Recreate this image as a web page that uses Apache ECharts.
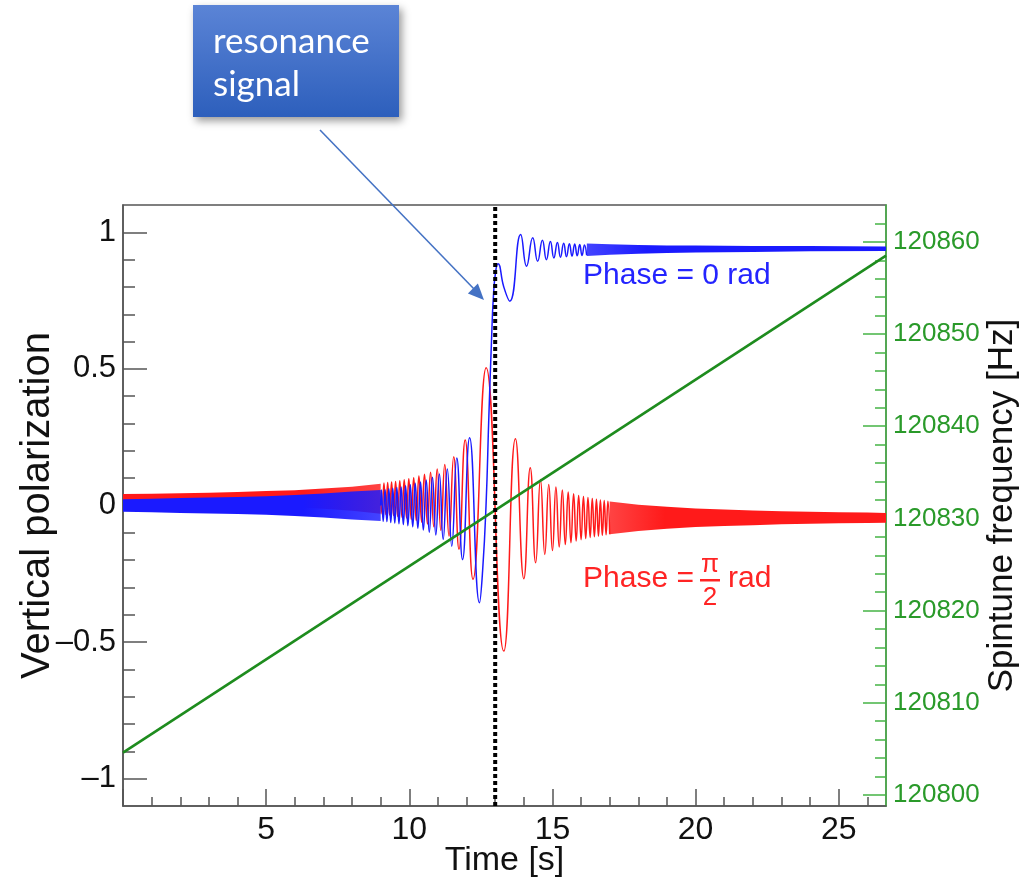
<!DOCTYPE html>
<html><head><meta charset="utf-8">
<script src="https://cdn.jsdelivr.net/npm/echarts@6/dist/echarts.min.js"></script>
<style>html,body{margin:0;padding:0;background:#fff}#c{width:1035px;height:883px}</style>
</head><body><div id="c"></div>
<script>
// ---- tick values / labels ----
const xMajorTicks = [0, 5, 10, 15, 20, 25];
const xTickLabels = [5, 10, 15, 20, 25];
const xMinorTicks = [1,2,3,4,6,7,8,9,11,12,13,14,16,17,18,19,21,22,23,24,26];
const yMajorTicks = [-1, -0.5, 0, 0.5, 1];
const yMinorTicks = [-0.9,-0.8,-0.7,-0.6,-0.4,-0.3,-0.2,-0.1,0.1,0.2,0.3,0.4,0.6,0.7,0.8,0.9];
const freqMajorTicks = [120800,120810,120820,120830,120840,120850,120860];
const freqMinorTicks = [120802,120804,120806,120808,120812,120814,120816,120818,120822,120824,120826,120828,
  120832,120834,120836,120838,120842,120844,120846,120848,120852,120854,120856,120858,120862];

// ---- resonance marker ----
const resonanceTime = [13];

// ---- spintune frequency (green) ----
const freqTime = [0, 26.65];
const freqHz = [120804.6, 120858.5];

// ---- Phase = pi/2 (red): dense band envelopes [t, upper, lower] and resolved oscillation [t, v] ----
const redBandLeft = [[0,0.042,0.008],[1,0.043,0.007],[2,0.045,0.005],[3,0.047,0.003],[4,0.049,0.001],
  [5,0.053,-0.003],[6,0.056,-0.006],[7,0.062,-0.012],[8,0.069,-0.019],[9,0.080,-0.030]];
const redWave = [[9.0,0.025],
  [9.050,-0.031],[9.114,0.082],[9.179,-0.033],[9.245,0.084],[9.312,-0.035],[9.381,0.086],[9.450,-0.037],
  [9.521,0.088],[9.594,-0.040],[9.668,0.091],[9.744,-0.043],[9.822,0.094],[9.902,-0.046],[9.983,0.098],
  [10.067,-0.050],[10.154,0.102],[10.243,-0.055],[10.335,0.108],[10.431,-0.061],[10.530,0.114],
  [10.634,-0.068],[10.742,0.122],[10.855,-0.078],[10.975,0.134],[11.103,-0.091],[11.239,0.150],
  [11.388,-0.112],[11.551,0.178],[11.735,-0.160],[11.951,0.240],[12.225,-0.270],[12.684,0.504],
  [13.300,-0.533],[13.707,0.244],[14.000,-0.268],[14.225,0.138],[14.414,-0.210],[14.581,0.095],
  [14.732,-0.179],[14.871,0.077],[15.000,-0.165],[15.121,0.068],[15.236,-0.152],[15.345,0.057],
  [15.449,-0.143],[15.550,0.049],[15.646,-0.136],[15.739,0.043],[15.828,-0.130],[15.915,0.037],
  [16.000,-0.125],[16.082,0.033],[16.162,-0.121],[16.240,0.029],[16.317,-0.117],[16.391,0.026],
  [16.464,-0.114],[16.536,0.023],[16.606,-0.112],[16.674,0.020],[16.742,-0.109],[16.808,0.018],
  [16.873,-0.107],[16.937,0.016],[17.000,-0.105]];
const redBandRight = [[17,0.015,-0.105],[18,0.003,-0.093],[19,-0.005,-0.085],[20,-0.011,-0.079],
  [21,-0.015,-0.075],[22,-0.018,-0.072],[23,-0.021,-0.069],[24,-0.023,-0.067],[25,-0.025,-0.065],
  [26,-0.026,-0.064],[26.65,-0.027,-0.063]];

// ---- Phase = 0 (blue) ----
const blueBandLeft = [[0,0.023,-0.023],[1,0.025,-0.025],[2,0.027,-0.027],[3,0.029,-0.029],[4,0.031,-0.031],
  [5,0.034,-0.034],[6,0.038,-0.038],[7,0.044,-0.044],[8,0.051,-0.051],[9,0.057,-0.057]];
const blueWave = [[9.0,0.0],
  [9.025,0.057],[9.088,-0.058],[9.153,0.058],[9.218,-0.059],[9.285,0.061],[9.353,-0.062],[9.422,0.063],
  [9.493,-0.064],[9.565,0.066],[9.638,-0.067],[9.714,0.068],[9.791,-0.070],[9.870,0.072],[9.950,-0.074],
  [10.034,0.076],[10.119,-0.078],[10.207,0.081],[10.298,-0.083],[10.392,0.086],[10.490,-0.090],
  [10.592,0.093],[10.698,-0.098],[10.809,0.103],[10.926,-0.108],[11.051,0.115],[11.183,-0.124],
  [11.327,0.134],[11.483,-0.149],[11.658,0.174],[11.860,-0.198],[12.106,0.248],[12.452,-0.356],
  [12.560,-0.240],[12.680,0.000],[12.780,0.330],[12.870,0.600],[12.940,0.770],[13.020,0.860],
  [13.100,0.885],[13.300,0.800],[13.510,0.748],[13.890,0.992],[14.095,0.876],[14.311,0.980],
  [14.483,0.894],[14.649,0.971],[14.789,0.900],[14.929,0.966],[15.049,0.906],[15.173,0.963],
  [15.280,0.909],[15.392,0.960],[15.490,0.911],[15.592,0.958],[15.683,0.913],[15.778,0.957],
  [15.864,0.914],[15.953,0.955],[16.033,0.915],[16.118,0.954],[16.194,0.916]];
const blueBandRight = [[16.2,0.959,0.913],[17,0.956,0.918],[18,0.954,0.922],[19,0.952,0.924],
  [20,0.952,0.926],[22,0.950,0.928],[24,0.950,0.931],[26.65,0.948,0.932]];

const X_MIN = 0, X_MAX = 26.65, Y_MIN = -1.1, Y_MAX = 1.1, F_MIN = 120798.8, F_MAX = 120864;
const RED = '#ff1a1a', BLUE = '#1a1aff', GREEN = '#1e8c1e';
const AX = '#555555', AXG = '#46b446';
const FONT = '"Liberation Sans", Arial, sans-serif';

// slight fade where the oscillation becomes resolvable (hatched look)
function bandSeries(band, rgb, z, fadeRight) {
  const solid = 'rgba(' + rgb + ',1)', light = 'rgba(' + rgb + ',0.82)';
  const stops = fadeRight
    ? [{offset: 0, color: solid}, {offset: 0.7, color: solid}, {offset: 1, color: light}]
    : [{offset: 0, color: light}, {offset: 0.2, color: solid}, {offset: 1, color: solid}];
  return {
    type: 'custom', xAxisIndex: 0, yAxisIndex: 0, z: z, clip: true, silent: true,
    data: [[band[0][0], band[0][1]]], encode: {x: 0, y: 1},
    renderItem: function (params, api) {
      const up = band.map(p => api.coord([p[0], p[1]]));
      const lo = band.slice().reverse().map(p => api.coord([p[0], p[2]]));
      return {type: 'polygon', shape: {points: up.concat(lo)},
              style: {fill: {type: 'linear', x: 0, y: 0, x2: 1, y2: 0, colorStops: stops}}};
    }
  };
}
function fmtY(v) { return v < 0 ? '\u2013' + Math.abs(v) : String(v); }

const chart = echarts.init(document.getElementById('c'), null, {renderer: 'canvas'});
chart.setOption({
  animation: false,
  backgroundColor: '#ffffff',
  grid: {left: 123, top: 205, right: 149, bottom: 77, containLabel: false, outerBoundsMode: 'none',
         show: true, borderColor: AX, borderWidth: 1.5, backgroundColor: 'transparent'},
  xAxis: [
    {type: 'value', position: 'bottom', min: X_MIN, max: X_MAX,
     axisLine: {show: true, onZero: false, lineStyle: {color: AX, width: 1.5}},
     axisTick: {show: true, inside: true, length: 17, customValues: xMajorTicks, lineStyle: {color: AX, width: 1.5}},
     axisLabel: {show: true, customValues: xTickLabels, fontSize: 32, color: '#111', fontFamily: FONT, margin: 8},
     splitLine: {show: false},
     name: 'Time [s]', nameLocation: 'middle', nameGap: 38, nameMoveOverlap: false,
     nameTextStyle: {fontSize: 34, color: '#111', fontFamily: FONT}},
    {type: 'value', position: 'bottom', min: X_MIN, max: X_MAX,
     axisLine: {show: false, onZero: false},
     axisTick: {show: true, inside: true, length: 9, customValues: xMinorTicks, lineStyle: {color: AX, width: 1.5}},
     axisLabel: {show: false}, splitLine: {show: false}}
  ],
  yAxis: [
    {type: 'value', position: 'left', min: Y_MIN, max: Y_MAX,
     axisLine: {show: true, onZero: false, lineStyle: {color: AX, width: 1.5}},
     axisTick: {show: true, inside: true, length: 24, customValues: yMajorTicks, lineStyle: {color: AX, width: 1.5}},
     axisLabel: {show: true, customValues: yMajorTicks, formatter: fmtY, fontSize: 31, color: '#111', fontFamily: FONT, margin: 7},
     splitLine: {show: false},
     name: 'Vertical polarization', nameLocation: 'middle', nameRotate: 90, nameGap: 65, nameMoveOverlap: false,
     nameTextStyle: {fontSize: 40, color: '#111', fontFamily: FONT}},
    {type: 'value', position: 'right', min: F_MIN, max: F_MAX,
     axisLine: {show: true, onZero: false, lineStyle: {color: AXG, width: 1.5}},
     axisTick: {show: true, inside: true, length: 23, customValues: freqMajorTicks, lineStyle: {color: AXG, width: 1.5}},
     axisLabel: {show: true, customValues: freqMajorTicks, formatter: v => String(v), fontSize: 26, color: '#2a9a2a', fontFamily: FONT, margin: 7},
     splitLine: {show: false},
     name: 'Spintune frequency [Hz]', nameLocation: 'middle', nameRotate: 90, nameGap: 99, nameMoveOverlap: false,
     nameTextStyle: {fontSize: 35, color: '#111', fontFamily: FONT}},
    {type: 'value', position: 'left', min: Y_MIN, max: Y_MAX,
     axisLine: {show: false, onZero: false},
     axisTick: {show: true, inside: true, length: 12, customValues: yMinorTicks, lineStyle: {color: AX, width: 1.5}},
     axisLabel: {show: false}, splitLine: {show: false}},
    {type: 'value', position: 'right', min: F_MIN, max: F_MAX,
     axisLine: {show: false, onZero: false},
     axisTick: {show: true, inside: true, length: 11, customValues: freqMinorTicks, lineStyle: {color: AXG, width: 1.5}},
     axisLabel: {show: false}, splitLine: {show: false}}
  ],
  series: [
    bandSeries(redBandLeft, '255,26,26', 1, true),
    bandSeries(redBandRight, '255,26,26', 1, false),
    {type: 'line', xAxisIndex: 0, yAxisIndex: 0, data: redWave, z: 2, showSymbol: false, smooth: 0.5,
     lineStyle: {color: RED, width: 1.5}, silent: true},
    bandSeries(blueBandLeft, '26,26,255', 3, true),
    bandSeries(blueBandRight, '26,26,255', 3, false),
    {type: 'line', xAxisIndex: 0, yAxisIndex: 0, data: blueWave, z: 4, showSymbol: false, smooth: 0.5,
     lineStyle: {color: BLUE, width: 1.5}, silent: true},
    {type: 'line', xAxisIndex: 0, yAxisIndex: 1, data: freqTime.map((t, i) => [t, freqHz[i]]), z: 5,
     showSymbol: false, lineStyle: {color: GREEN, width: 2.6}, silent: true},
    {type: 'line', xAxisIndex: 0, yAxisIndex: 0, data: [[resonanceTime[0], Y_MIN], [resonanceTime[0], Y_MAX]], z: 6,
     showSymbol: false, lineStyle: {color: '#000', width: 4, type: [4, 3]}, silent: true}
  ],
  graphic: [
    {type: 'rect', z: 100, shape: {x: 193, y: 5, width: 206, height: 112},
     style: {fill: new echarts.graphic.LinearGradient(0, 0, 0, 1, [{offset: 0, color: '#5b84d6'}, {offset: 1, color: '#2d5fbc'}]),
             shadowBlur: 8, shadowOffsetX: 3, shadowOffsetY: 4, shadowColor: 'rgba(0,0,0,0.4)'}},
    {type: 'text', z: 101, x: 213, y: 42, style: {text: 'resonance', fill: '#ffffff', fontSize: 35, fontFamily: 'Lato, "Open Sans", sans-serif', verticalAlign: 'middle'}},
    {type: 'text', z: 101, x: 213, y: 85, style: {text: 'signal', fill: '#ffffff', fontSize: 35, fontFamily: 'Lato, "Open Sans", sans-serif', verticalAlign: 'middle'}},
    {type: 'line', z: 100, shape: {x1: 320, y1: 130, x2: 475, y2: 290}, style: {stroke: '#4472c4', lineWidth: 1.6}},
    {type: 'polygon', z: 100, shape: {points: [[484, 300], [467.9, 293.4], [477.9, 283.6]]}, style: {fill: '#4472c4'}},
    {type: 'text', z: 100, x: 583, y: 276, style: {text: 'Phase = 0 rad', fill: '#2424ff', fontSize: 30, fontFamily: FONT, verticalAlign: 'middle'}},
    {type: 'text', z: 100, x: 583, y: 579, style: {text: 'Phase = ', fill: '#ff2424', fontSize: 30, fontFamily: FONT, verticalAlign: 'middle'}},
    {type: 'text', z: 100, x: 710, y: 565, style: {text: '\u03c0', fill: '#ff2424', fontSize: 26, fontFamily: FONT, align: 'center', verticalAlign: 'middle'}},
    {type: 'rect', z: 100, shape: {x: 700, y: 579, width: 20, height: 2.5}, style: {fill: '#ff2424'}},
    {type: 'text', z: 100, x: 710, y: 598, style: {text: '2', fill: '#ff2424', fontSize: 26, fontFamily: FONT, align: 'center', verticalAlign: 'middle'}},
    {type: 'text', z: 100, x: 728, y: 579, style: {text: 'rad', fill: '#ff2424', fontSize: 30, fontFamily: FONT, verticalAlign: 'middle'}}
  ]
});
</script></body></html>
